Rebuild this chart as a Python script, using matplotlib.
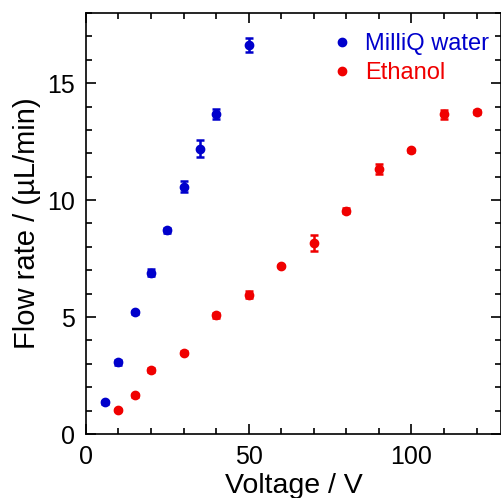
import numpy as np
import matplotlib
matplotlib.use("Agg")
import matplotlib.pyplot as plt
from matplotlib.ticker import MultipleLocator
from matplotlib.lines import Line2D

plt.rcParams['font.family'] = ['Liberation Sans', 'DejaVu Sans']

# MilliQ water
water_v = [6, 10, 15, 20, 25, 30, 35, 40, 50]
water_q = [1.35, 3.07, 5.2, 6.9, 8.7, 10.58, 12.2, 13.68, 16.63]
water_err = [0.05, 0.1, 0.05, 0.15, 0.1, 0.25, 0.35, 0.2, 0.3]

# Ethanol
eth_v = [10, 15, 20, 30, 40, 50, 60, 70, 80, 90, 100, 110, 120]
eth_q = [1.02, 1.65, 2.75, 3.48, 5.07, 5.95, 7.17, 8.17, 9.55, 11.33, 12.12, 13.67, 13.75]
eth_err = [0.05, 0.08, 0.08, 0.05, 0.1, 0.15, 0.05, 0.35, 0.12, 0.2, 0.05, 0.2, 0.08]

blue = '#0000cc'
red = '#f00000'

fig = plt.figure(figsize=(5.02, 4.98), dpi=100)
ax = fig.add_axes([0.171, 0.1285, 0.827, 0.8455])

ax.errorbar(water_v, water_q, yerr=water_err, fmt='o', color=blue, ms=6,
            elinewidth=1.8, capsize=3, capthick=1.8)
ax.errorbar(eth_v, eth_q, yerr=eth_err, fmt='o', color=red, ms=6,
            elinewidth=1.8, capsize=3, capthick=1.8)

ax.set_xlim(0, 127.5)
ax.set_ylim(0, 18)
ax.xaxis.set_major_locator(MultipleLocator(50))
ax.xaxis.set_minor_locator(MultipleLocator(10))
ax.yaxis.set_major_locator(MultipleLocator(5))
ax.yaxis.set_minor_locator(MultipleLocator(1))
ax.tick_params(which='both', direction='in', top=True, right=True,
               labelsize=18, width=1.2)
ax.tick_params(which='major', length=7, pad=8)
ax.tick_params(which='minor', length=4)
for s in ax.spines.values():
    s.set_linewidth(1.2)

ax.set_xlabel('Voltage / V', fontsize=20.5, labelpad=3)
ax.set_ylabel('Flow rate / (µL/min)', fontsize=21, labelpad=4)

handles = [Line2D([], [], ls='none', marker='o', ms=6, color=blue),
           Line2D([], [], ls='none', marker='o', ms=6, color=red)]
leg = ax.legend(handles, ['MilliQ water', 'Ethanol'], loc='upper right',
                frameon=False, fontsize=17, handlelength=1.0,
                handletextpad=0.5, borderaxespad=0.1, labelspacing=0.3,
                bbox_to_anchor=(1.0, 0.98))
for txt, c in zip(leg.get_texts(), [blue, red]):
    txt.set_color(c)

fig.savefig('out.png', dpi=100)
